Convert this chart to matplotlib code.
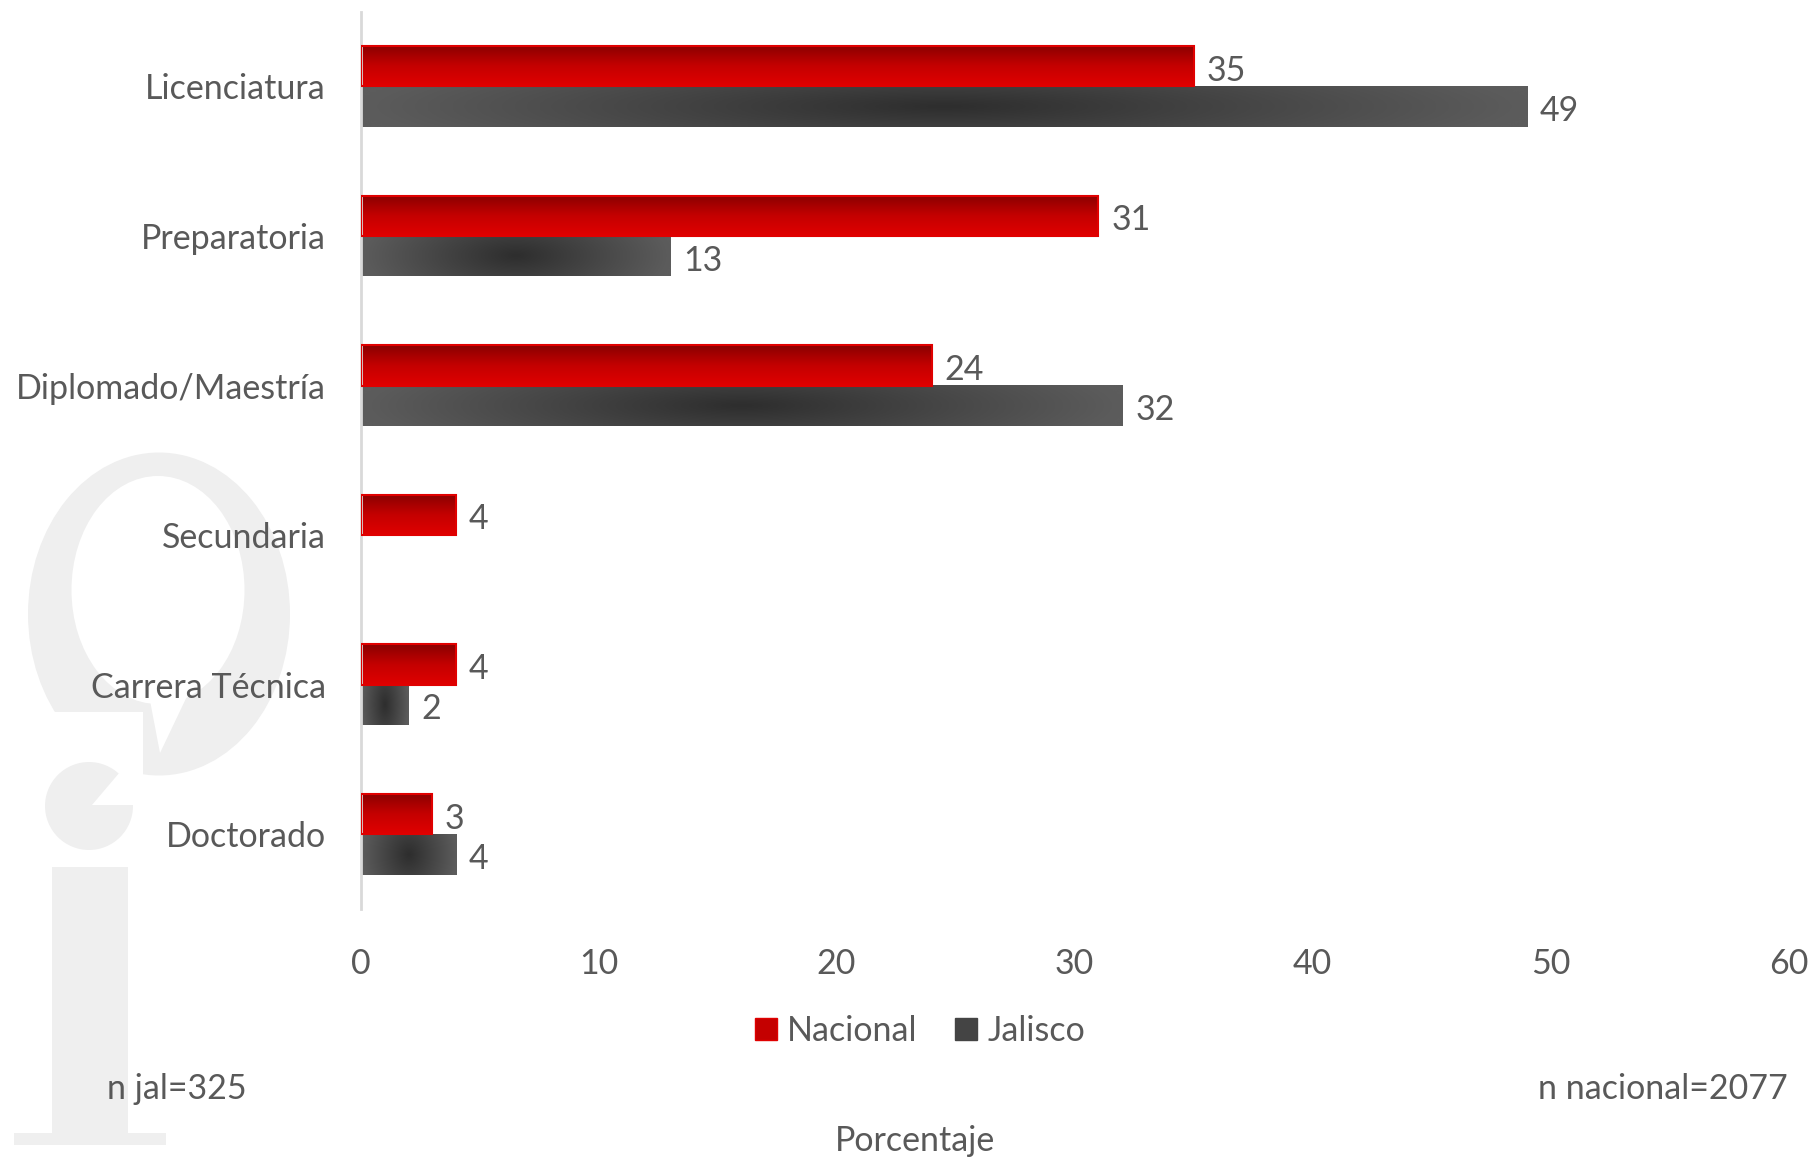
import numpy as np
import matplotlib
matplotlib.use("Agg")
import matplotlib.pyplot as plt
import matplotlib.colors as mcolors
from matplotlib.patches import Ellipse, Rectangle, Patch, Polygon

categories = ["Licenciatura", "Preparatoria", "Diplomado/Maestría",
              "Secundaria", "Carrera Técnica", "Doctorado"]
nacional = [35, 31, 24, 4, 4, 3]
jalisco = [49, 13, 32, None, 2, 4]
x_ticks = [0, 10, 20, 30, 40, 50, 60]

TEXT = "#595959"
FS = 24.5
plt.rcParams["font.family"] = ["Lato", "DejaVu Sans"]

W, H = 1812, 1158
fig = plt.figure(figsize=(W / 100, H / 100), dpi=100)

# watermark logo in the background (pixel coords, y down)
bg = fig.add_axes([0, 0, 1, 1], zorder=-5)
bg.set_xlim(0, W)
bg.set_ylim(H, 0)
bg.axis("off")
wm = "#efefef"
bg.add_patch(Ellipse((159, 614), 262, 323, color=wm, lw=0))
bg.add_patch(Ellipse((158, 590), 173, 228, color="white", lw=0))
bg.add_patch(Polygon([(20, 712), (143, 712), (143, 800), (20, 800)], color="white", lw=0))
bg.add_patch(Polygon([(148, 690), (190, 690), (160, 753)], color="white", lw=0))
bg.add_patch(Ellipse((89, 806), 88, 88, color=wm, lw=0))
bg.add_patch(Polygon([(92, 805), (140, 805), (140, 760), (120, 772)], color="white", lw=0))
bg.add_patch(Rectangle((52, 867), 76, 270, color=wm, lw=0))
bg.add_patch(Rectangle((14, 1133), 152, 12, color=wm, lw=0))

ax = fig.add_axes([0.199, 0.215, 0.788, 0.775])
ax.set_facecolor("none")

bh = 0.27
y = np.arange(len(categories))
red_bars = ax.barh(y - bh / 2, nacional, height=bh, color="#d00000", label="Nacional")
jal_vals = [np.nan if v is None else v for v in jalisco]
gray_bars = ax.barh(y + bh / 2, jal_vals, height=bh, color="#4a4a4a", label="Jalisco")

# gradient fills over bars
red_cmap = mcolors.LinearSegmentedColormap.from_list("r", ["#8a0000", "#c40000", "#e00000"])
gray_cmap = mcolors.LinearSegmentedColormap.from_list("g", ["#2e2e2e", "#5c5c5c"])
for p in red_bars.patches:
    x0, y0, w, h = p.get_x(), p.get_y(), p.get_width(), p.get_height()
    grad = np.linspace(0, 1, 64).reshape(-1, 1)
    ax.imshow(grad, cmap=red_cmap, extent=(x0, x0 + w, y0 + h, y0),
              aspect="auto", origin="upper", zorder=2, interpolation="bicubic")
    ax.add_patch(Rectangle((x0, y0), w, h, fill=False, ec="#e00000", lw=1.5, zorder=3))
for p in gray_bars.patches:
    x0, y0, w, h = p.get_x(), p.get_y(), p.get_width(), p.get_height()
    if not np.isfinite(w) or w == 0:
        continue
    gx, gy = np.meshgrid(np.linspace(-1, 1, 200), np.linspace(-1, 1, 40))
    d = np.clip(np.sqrt(gx ** 2 + (gy * 0.35) ** 2), 0, 1)
    ax.imshow(d, cmap=gray_cmap, extent=(x0, x0 + w, y0 + h, y0),
              aspect="auto", zorder=2, interpolation="bicubic")
ax.set_xlim(0, 60)
ax.set_ylim(len(categories) - 0.5, -0.5)

# value labels
for bars, vals in ((red_bars, nacional), (gray_bars, jalisco)):
    for p, v in zip(bars.patches, vals):
        if v is None:
            continue
        ax.text(p.get_width() + 0.55, p.get_y() + p.get_height() / 2 + 0.03, f"{v}",
                va="center", ha="left", fontsize=FS, color=TEXT)

ax.set_yticks(y)
ax.set_yticklabels(categories, fontsize=FS, color=TEXT)
ax.set_xticks(x_ticks)
ax.set_xticklabels([str(t) for t in x_ticks], fontsize=FS, color=TEXT)
ax.tick_params(axis="both", length=0)
ax.tick_params(axis="y", pad=25)
ax.tick_params(axis="x", pad=28)
for s in ("top", "right", "bottom"):
    ax.spines[s].set_visible(False)
ax.spines["left"].set_color("#d9d9d9")
ax.spines["left"].set_linewidth(2)

handles = [Patch(facecolor="#c40000", edgecolor="#e00000"),
           Patch(facecolor="#444444", edgecolor="#444444")]
fig.legend(handles, ["Nacional", "Jalisco"], loc="center", bbox_to_anchor=(920 / W, 1 - 1031 / H),
           ncol=2, frameon=False, fontsize=FS, labelcolor=TEXT,
           handlelength=0.65, handleheight=0.65, handletextpad=0.3, columnspacing=1.1)

fig.text(107 / W, 1 - 1089 / H, "n jal=325", fontsize=FS, color=TEXT, ha="left", va="center")
fig.text(1788 / W, 1 - 1089 / H, "n nacional=2077", fontsize=FS, color=TEXT, ha="right", va="center")
fig.text(915 / W, 1 - 1141 / H, "Porcentaje", fontsize=FS, color=TEXT, ha="center", va="center")

fig.savefig("out.png", dpi=100)
